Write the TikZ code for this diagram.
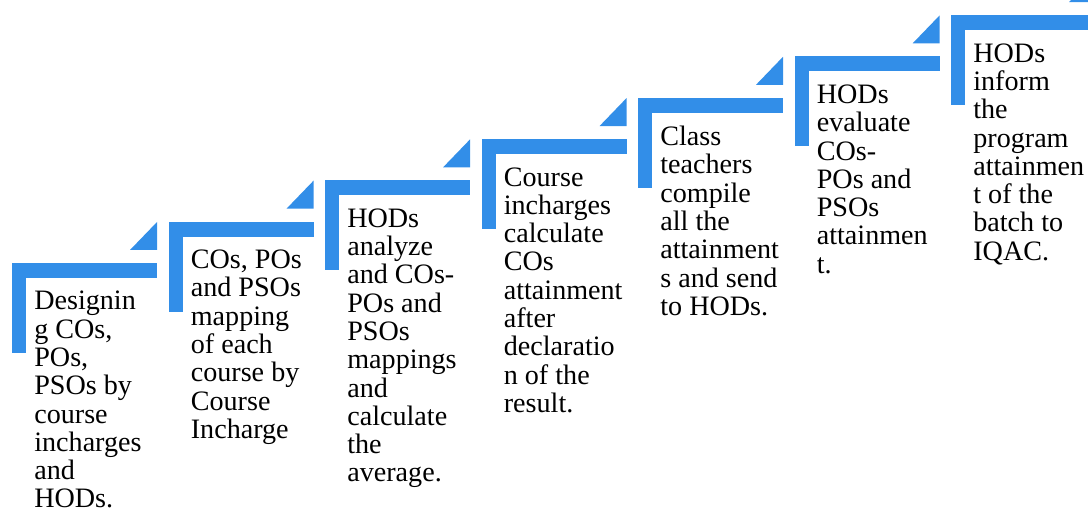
\documentclass[tikz,border=0pt]{standalone}
\usepackage{fontspec}
\setmainfont{Liberation Serif}
\definecolor{stepblue}{RGB}{50,142,232}

\begin{document}
\begin{tikzpicture}[x=0.02cm,y=-0.02cm,
  stepbar/.style={fill=stepblue,draw=none},
  steptext/.style={anchor=north west,inner sep=0pt,align=left,font=\fontsize{16}{16.1}\selectfont}]
  \clip (0,0) rectangle (1088,523);
  \pgfmathsetmacro\dx{156.5}
  \pgfmathsetmacro\dy{41.3}
  \foreach \i/\txt in {
    0/{Designin\\g COs,\\POs,\\PSOs by\\course\\incharges\\and\\HODs.},
    1/{COs, POs\\and PSOs\\mapping\\of each\\course by\\Course\\Incharge},
    2/{HODs\\analyze\\and COs-\\POs and\\PSOs\\mappings\\and\\calculate\\the\\average.},
    3/{Course\\incharges\\calculate\\COs\\attainment\\after\\declaratio\\n of the\\result.},
    4/{Class\\teachers\\compile\\all the\\attainment\\s and send\\to HODs.},
    5/{HODs\\evaluate\\COs-\\POs and\\PSOs\\attainmen\\t.},
    6/{HODs\\inform\\the\\program\\attainmen\\t of the\\batch to\\IQAC.}} {
    \pgfmathsetmacro\xx{12+\i*\dx}
    \pgfmathsetmacro\yy{263-\i*\dy}
    % bar, post and the little corner triangle
    \fill[stepbar] (\xx,\yy) rectangle ++(145,15);
    \fill[stepbar] (\xx,\yy) rectangle ++(14,90);
    \fill[stepbar] (\xx+118,\yy-13) -- ++(27,0) -- ++(0,-28) -- cycle;
    \node[steptext] (step\i) at (\xx+22,\yy+28) {\txt};
  }
\end{tikzpicture}
\end{document}
